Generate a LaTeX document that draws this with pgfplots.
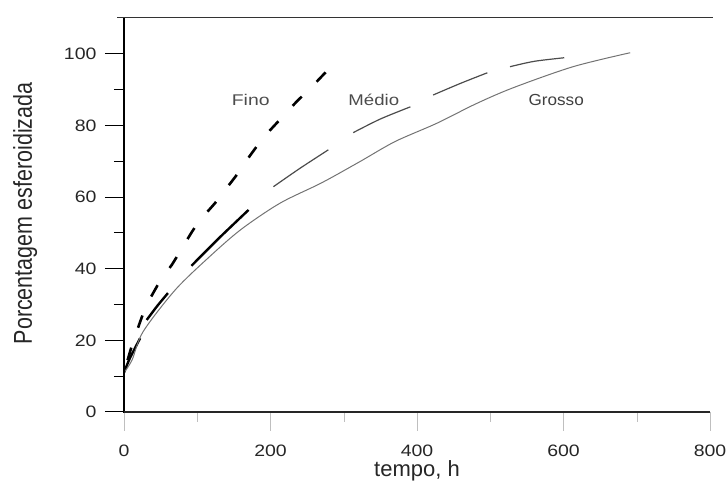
\documentclass[border=0pt]{standalone}
\usepackage{fontspec}
\setmainfont{Liberation Sans}
\usepackage{graphicx}
\usepackage{pgfplots}
\pgfplotsset{compat=1.18}
\newcommand\sx[2]{\scalebox{#1}[1]{#2}}
\begin{document}
\begin{tikzpicture}[x=1bp,y=1bp]
\path[use as bounding box] (-124,-72) rectangle (603,412);
\begin{axis}[
  name=ax,
  scale only axis, width=586bp, height=394bp,
  at={(0,0)}, anchor=south west,
  xmin=0, xmax=800, ymin=0, ymax=110,
  axis line style={draw=none},
  xtick pos=left, ytick pos=left,
  tick align=outside,
  xtick={0,200,...,800}, minor xtick={100,300,...,700},
  ytick={0,20,...,100}, minor ytick={10,30,...,90},
  major tick length=19bp, minor tick length=10bp,
  ytick style={black, line width=1bp},
  xtick style={black!25, line width=0.5bp},
  /pgf/number format/assume math mode=true,
  xticklabel={\sx{1.18}{\pgfmathprintnumber{\tick}}},
  yticklabel={\sx{1.18}{\pgfmathprintnumber{\tick}}},
  ticklabel style={font=\fontsize{16.5bp}{18bp}\selectfont, text=black!85},
  yticklabel style={anchor=east, xshift=-5bp},
  xticklabel style={anchor=base, yshift=-26bp},
  xlabel={tempo, h},
  xlabel style={at={(axis description cs:0.5,0)}, anchor=base, yshift=-65bp, font=\fontsize{22bp}{24bp}\selectfont, text=black!85},
  ylabel={\scalebox{1}[1.2]{Porcentagem esferoidizada}},
  ylabel style={at={(axis description cs:0,0.504)}, anchor=base, rotate=0, yshift=92bp, font=\fontsize{21.5bp}{24bp}\selectfont, text=black!85},
]
% Fino
\addplot[black, line width=2.6bp, dash pattern=on 13bp off 21bp, dash phase=21bp, smooth, tension=0.4] coordinates {
 (0,11) (10,18) (20,24) (30,29.5) (42,34) (52,37.5) (65,41) (80,46) (95,51) (110,55) (125,58.5) (140,62.5) (155,66.5) (170,71) (190,76.5) (210,81) (235,86.5) (255,90.5) (276,95)};
% Medio (segments)
\addplot[black, line width=2.4bp, smooth] coordinates {(0,11) (8,15) (22,20.6)};
\addplot[black, line width=2.4bp, smooth] coordinates {(31,25.7) (45,29.5) (60,33.2)};
\addplot[black, line width=2.4bp, smooth] coordinates {(92,40.8) (130,48.6) (170,56.4)};
\addplot[black!70, line width=1.2bp, smooth] coordinates {(204,62.9) (240,68) (279,73.2)};
\addplot[black!70, line width=1.2bp, smooth] coordinates {(313,78) (350,81.8) (391,85.2)};
\addplot[black!70, line width=1.2bp, smooth] coordinates {(422,88.5) (460,91.8) (496,94.7)};
\addplot[black!70, line width=1.2bp, smooth] coordinates {(527,96.4) (560,97.9) (601,98.9)};
% Grosso
\addplot[black!55, line width=1bp, smooth, tension=0.5] coordinates {
 (0,11) (11,14.5) (26,22.4) (70,34.1) (117,43.4) (160,51) (213,58.3) (270,64) (322,69.9) (370,75.5) (427,80.6) (480,86) (531,90.5) (613,96.4) (691,100.3)};
\node[font=\fontsize{15.5bp}{17bp}\selectfont, text=black!70] at (axis cs:173,87.2) {\sx{1.25}{Fino}};
\node[font=\fontsize{15.5bp}{17bp}\selectfont, text=black!70] at (axis cs:341,87.2) {\sx{1.2}{Médio}};
\node[font=\fontsize{16bp}{17bp}\selectfont, text=black!75] at (axis cs:590,87.2) {\sx{1.07}{Grosso}};
\end{axis}
\draw[line width=2.6bp] (0,-1) -- (0,394);
\draw[line width=1.3bp, black!85] (0,0) -- (586,0);
\draw[line width=1bp, black!80] (-7,394) -- (589,394);
\end{tikzpicture}
\end{document}
